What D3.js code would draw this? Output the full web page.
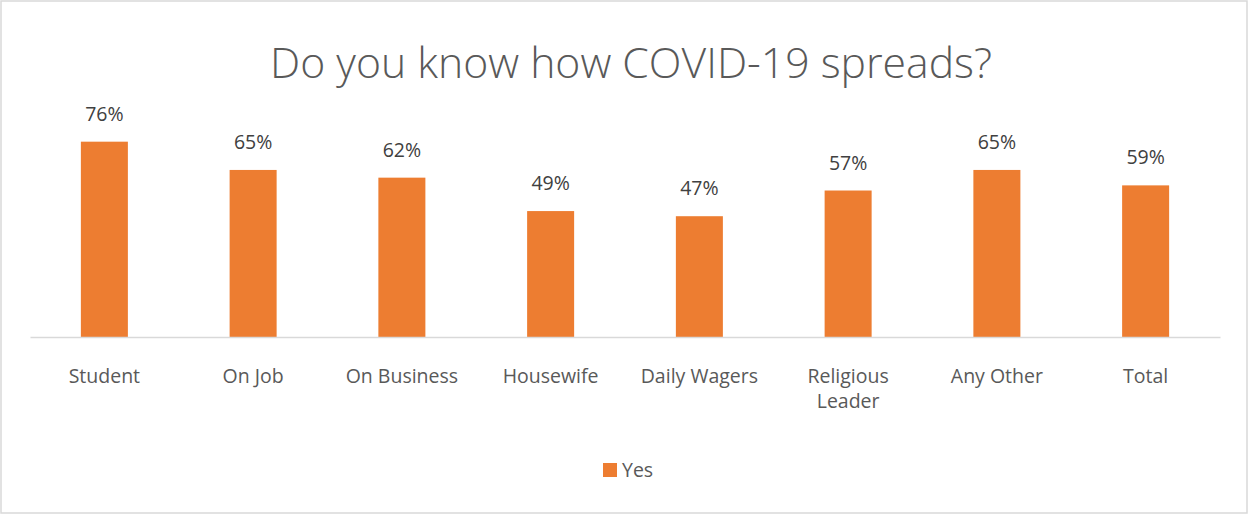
<!DOCTYPE html>
<html>
<head>
<meta charset="utf-8">
<script src="https://cdn.jsdelivr.net/npm/d3@7"></script>
<style>
  html, body { margin: 0; padding: 0; background: #fff; }
  svg { display: block; font-family: "Open Sans", sans-serif; }
</style>
</head>
<body>
<svg id="chart" width="1249" height="515"></svg>
<script>
// Data
var categories = ["Student", "On Job", "On Business", "Housewife", "Daily Wagers", "Religious Leader", "Any Other", "Total"];
var labelLines = [["Student"], ["On Job"], ["On Business"], ["Housewife"], ["Daily Wagers"], ["Religious", "Leader"], ["Any Other"], ["Total"]];
var yesValues = [0.76, 0.65, 0.62, 0.49, 0.47, 0.57, 0.65, 0.59];
var seriesName = "Yes";
var title = "Do you know how COVID-19 spreads?";

var barColor = "#ed7d31";
var svg = d3.select("#chart");

// chart frame
svg.append("rect")
    .attr("x", 1).attr("y", 1)
    .attr("width", 1246).attr("height", 512)
    .attr("fill", "#fff")
    .attr("stroke", "#d9d9d9")
    .attr("stroke-width", 1.5);

// scales
var x = d3.scaleBand().domain(categories).range([30, 1220]).padding(0);
var y = d3.scaleLinear().domain([0, 1]).range([337, 80]);
var barW = x.bandwidth() * 0.316;

// title
var t = svg.append("text")
    .attr("x", 631).attr("y", 78)
    .attr("text-anchor", "middle")
    .attr("fill", "#595959")
    .attr("font-weight", 300)
    .attr("font-size", 40)
    .text(title);
var tl = t.node().getComputedTextLength();
t.attr("font-size", 40 * 722 / tl);

// bars
svg.append("g").selectAll("rect")
    .data(yesValues)
    .join("rect")
    .attr("x", function(d, i) { return x(categories[i]) + (x.bandwidth() - barW) / 2; })
    .attr("y", function(d) { return y(d); })
    .attr("width", barW)
    .attr("height", function(d) { return y(0) - y(d); })
    .attr("fill", barColor);

// data labels
svg.append("g").selectAll("text")
    .data(yesValues)
    .join("text")
    .attr("x", function(d, i) { return x(categories[i]) + x.bandwidth() / 2; })
    .attr("y", function(d) { return y(d) - 21; })
    .attr("text-anchor", "middle")
    .attr("fill", "#404040")
    .attr("font-size", 19.5)
    .text(function(d) { return Math.round(d * 100) + "%"; });

// x axis
var xAxis = svg.append("g")
    .attr("transform", "translate(0," + y(0) + ")")
    .call(d3.axisBottom(x).tickSize(0).tickFormat(""));
xAxis.select(".domain").attr("stroke", "#d9d9d9").attr("stroke-width", 1.5);

var lbl = svg.append("g").selectAll("text")
    .data(categories)
    .join("text")
    .attr("x", function(d) { return x(d) + x.bandwidth() / 2; })
    .attr("y", 383)
    .attr("text-anchor", "middle")
    .attr("fill", "#595959")
    .attr("font-size", 19.5);
lbl.each(function(d, i) {
    var el = d3.select(this);
    labelLines[i].forEach(function(line, k) {
        el.append("tspan")
            .attr("x", x(d) + x.bandwidth() / 2)
            .attr("dy", k === 0 ? 0 : 25)
            .text(line);
    });
});

// legend
var legend = svg.append("g");
legend.append("rect")
    .attr("x", 603).attr("y", 463)
    .attr("width", 14).attr("height", 14)
    .attr("fill", barColor);
legend.append("text")
    .attr("x", 622).attr("y", 477)
    .attr("fill", "#595959")
    .attr("font-size", 19.5)
    .text(seriesName);
</script>
</body>
</html>
